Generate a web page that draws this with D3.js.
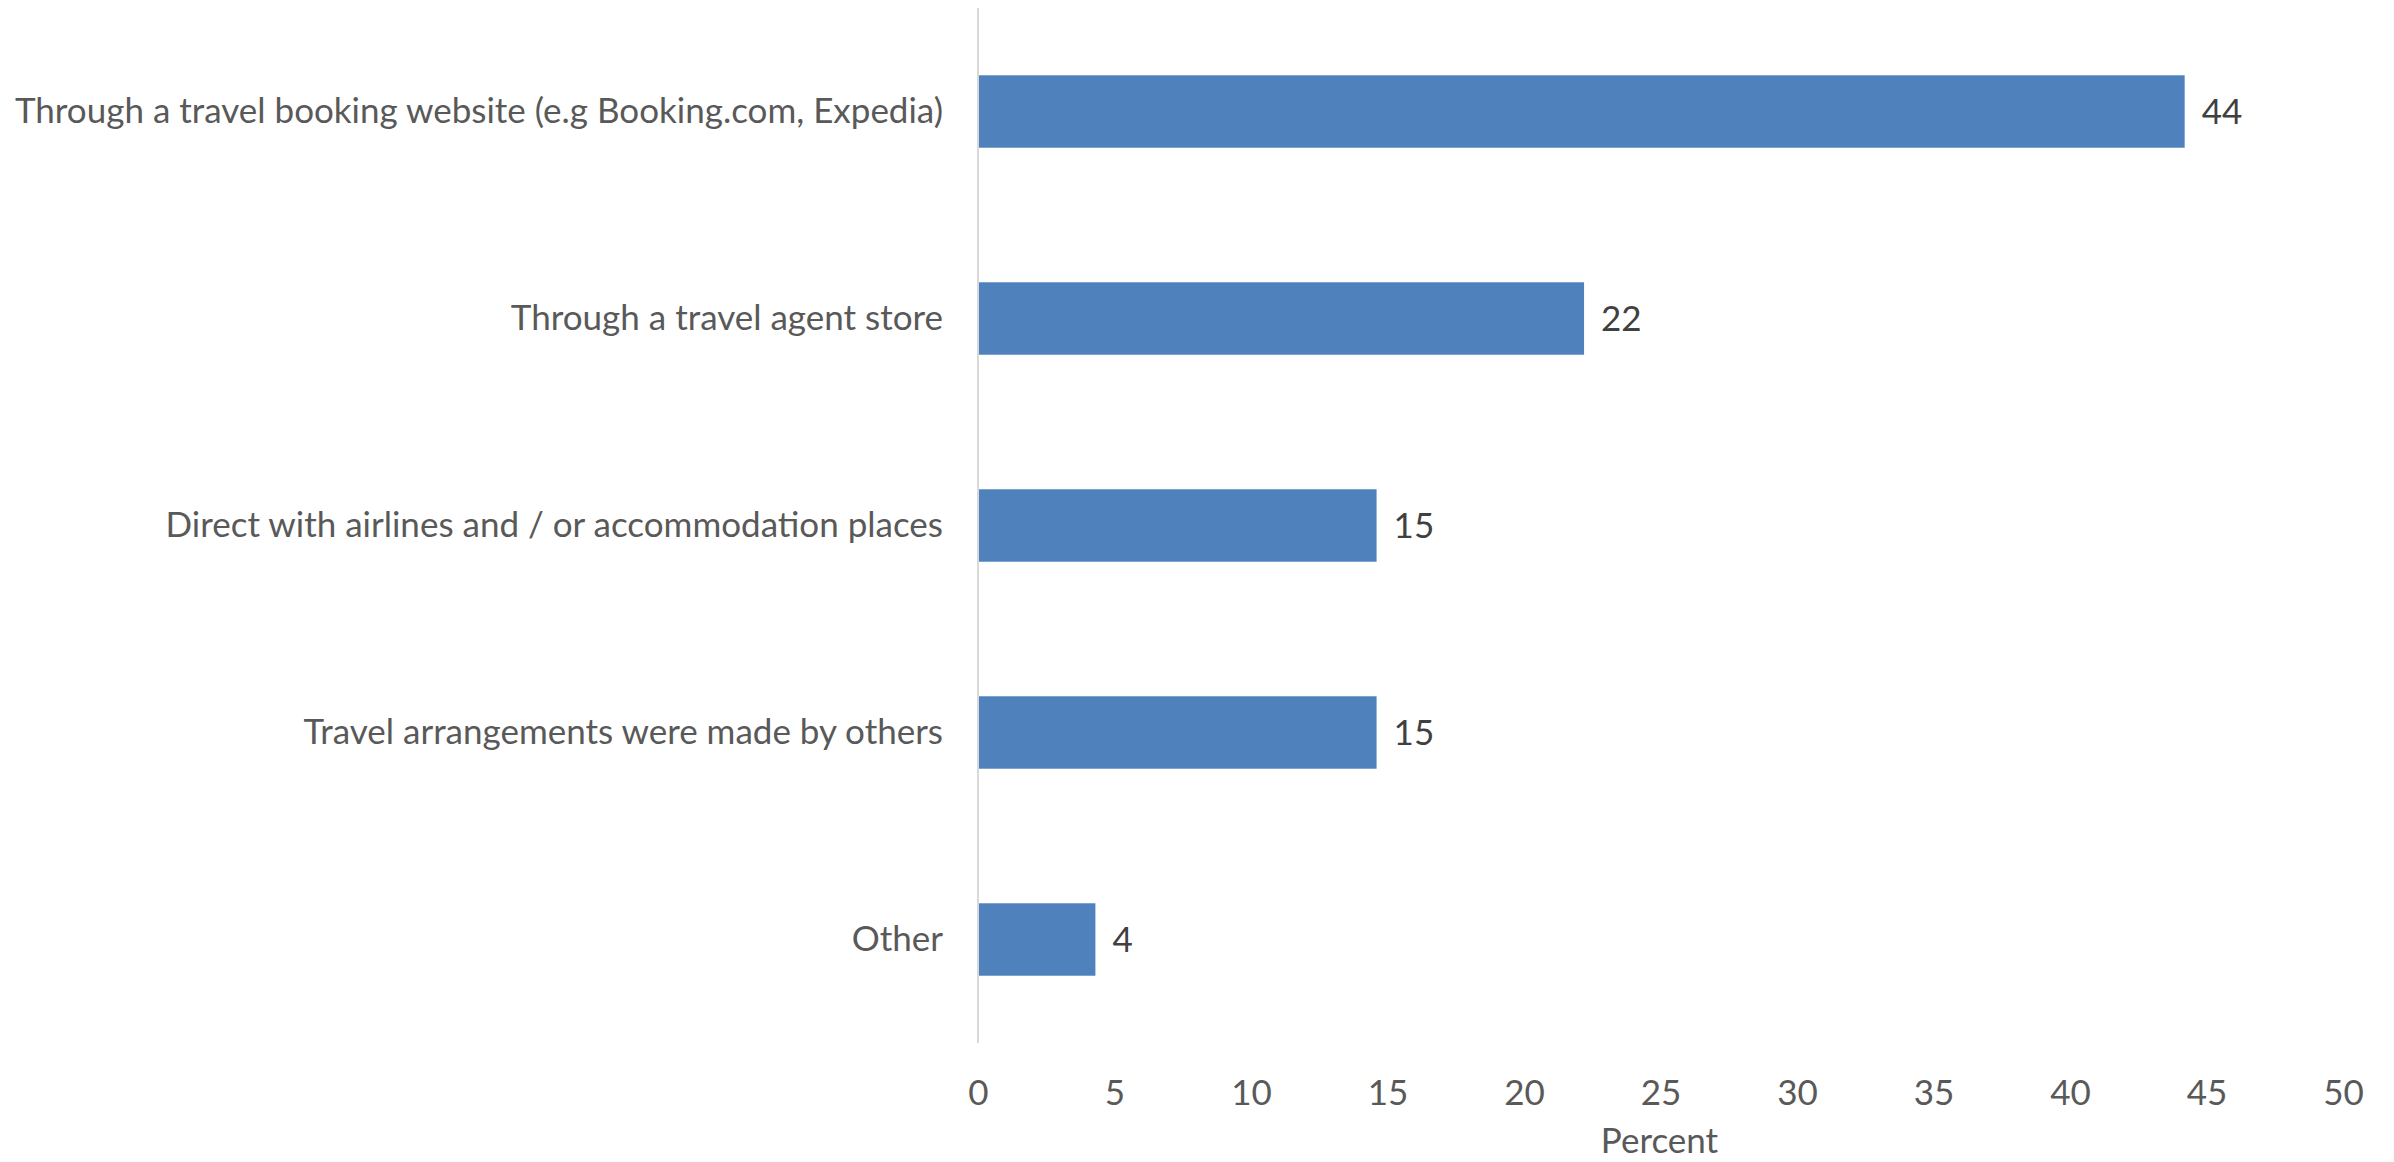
<!DOCTYPE html>
<html>
<head>
<meta charset="utf-8">
<script src="https://cdn.jsdelivr.net/npm/d3@7"></script>
<style>
  html, body { margin: 0; padding: 0; background: #ffffff; }
  svg { display: block; }
  text { font-family: Lato, "Open Sans", sans-serif; }
</style>
</head>
<body>
<svg id="chart" width="2394" height="1162"></svg>
<script>
// Share of respondents by booking channel (percent)
const categories = [
  "Through a travel booking website (e.g Booking.com, Expedia)",
  "Through a travel agent store",
  "Direct with airlines and / or accommodation places",
  "Travel arrangements were made by others",
  "Other"
];
const values = [44.2, 22.2, 14.6, 14.6, 4.3];
const xTicks = [0, 5, 10, 15, 20, 25, 30, 35, 40, 45, 50];
const axisTitle = "Percent";

const svg = d3.select("#chart");
const fontSize = 35;
const plot = { left: 978, right: 2343, top: 8, bottom: 1043 };

const x = d3.scaleLinear().domain([0, 50]).range([plot.left, plot.right]);
const y = d3.scaleBand()
  .domain(categories)
  .range([plot.top, plot.bottom])
  .paddingInner(0.65)
  .paddingOuter(0.325);

const data = categories.map((c, i) => ({ cat: c, val: values[i] }));

// bars
svg.append("g").selectAll("rect")
  .data(data)
  .join("rect")
  .attr("x", x(0))
  .attr("y", d => y(d.cat))
  .attr("width", d => x(d.val) - x(0))
  .attr("height", y.bandwidth())
  .attr("fill", "#4F81BD");

// vertical category axis line
svg.append("line")
  .attr("x1", x(0)).attr("x2", x(0))
  .attr("y1", plot.top).attr("y2", plot.bottom)
  .attr("stroke", "#D9D9D9")
  .attr("stroke-width", 2);

// category labels
const yAxis = d3.axisLeft(y).tickSize(0).tickPadding(35);
const gy = svg.append("g").attr("transform", `translate(${x(0)},0)`).call(yAxis);
gy.select(".domain").remove();
gy.selectAll("text")
  .attr("font-size", fontSize)
  .attr("fill", "#595959")
  .attr("font-family", "Lato, 'Open Sans', sans-serif");

// value axis (labels only)
const xAxis = d3.axisBottom(x).tickValues(xTicks).tickSize(0).tickPadding(0);
const gx = svg.append("g").attr("transform", `translate(0,${plot.bottom})`).call(xAxis);
gx.select(".domain").remove();
gx.selectAll("text")
  .attr("font-size", fontSize)
  .attr("fill", "#595959")
  .attr("font-family", "Lato, 'Open Sans', sans-serif")
  .attr("dy", null)
  .attr("y", 62);

// data labels
svg.append("g").selectAll("text")
  .data(data)
  .join("text")
  .attr("x", d => x(d.val) + 17)
  .attr("y", d => y(d.cat) + y.bandwidth() / 2)
  .attr("dy", "0.35em")
  .attr("font-size", fontSize)
  .attr("fill", "#404040")
  .text(d => d3.format(".0f")(d.val));

// axis title
svg.append("text")
  .attr("x", (plot.left + plot.right) / 2 - 1)
  .attr("y", 1153)
  .attr("text-anchor", "middle")
  .attr("font-size", fontSize)
  .attr("fill", "#595959")
  .text(axisTitle);
</script>
</body>
</html>
